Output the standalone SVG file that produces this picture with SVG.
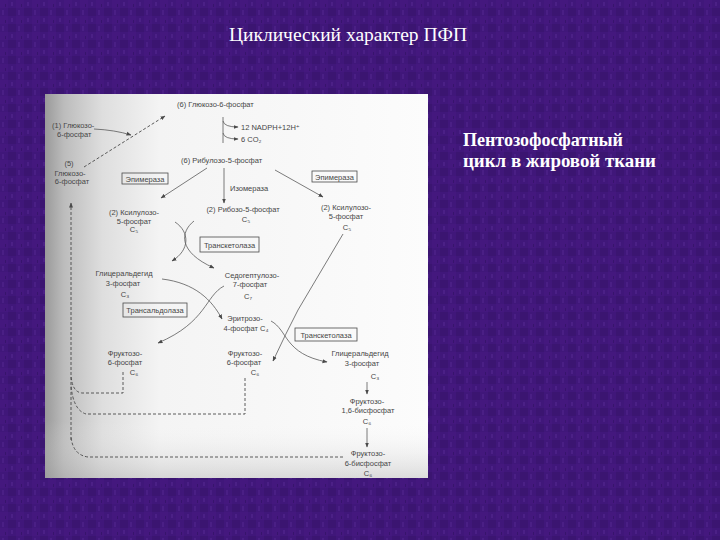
<svg xmlns="http://www.w3.org/2000/svg" width="720" height="540" viewBox="0 0 720 540">
<defs>
<pattern id="bgp" width="16" height="16" patternUnits="userSpaceOnUse">
<rect width="16" height="16" fill="#40177a"/>
<rect x="0" y="0" width="8" height="8" fill="#44187e"/>
<rect x="8" y="8" width="8" height="8" fill="#3b1571"/>
<rect x="2" y="10" width="2" height="5" fill="#4a1f85"/>
<rect x="11" y="2" width="2" height="4" fill="#4b2086"/>
<rect x="5" y="4" width="1" height="3" fill="#37146c"/>
</pattern>
<linearGradient id="scanH" x1="0" y1="0" x2="1" y2="0">
<stop offset="0" stop-color="#9a9a9a"/>
<stop offset="0.05" stop-color="#bcbcbc"/>
<stop offset="0.15" stop-color="#dedede"/>
<stop offset="0.3" stop-color="#f4f4f4"/>
<stop offset="1" stop-color="#fcfcfc"/>
</linearGradient>
<linearGradient id="scanV" x1="0" y1="0" x2="0" y2="1">
<stop offset="0" stop-color="#ffffff" stop-opacity="0"/>
<stop offset="0.85" stop-color="#ffffff" stop-opacity="0"/>
<stop offset="1" stop-color="#a0a0a0" stop-opacity="0.35"/>
</linearGradient>
<marker id="ah" viewBox="0 0 10 10" refX="9" refY="5" markerWidth="5" markerHeight="5" orient="auto" markerUnits="userSpaceOnUse">
<path d="M0,1 L10,5 L0,9 z" fill="#4a4a4a"/>
</marker>
<style>
.t{font-family:"Liberation Sans","DejaVu Sans",sans-serif;font-size:7.5px;fill:#464646}
.m{text-anchor:middle}
.box{fill:none;stroke:#4a4a4a;stroke-width:0.8}
.ln{fill:none;stroke:#5a5a5a;stroke-width:0.8}
.ar{marker-end:url(#ah)}
.ds{fill:none;stroke:#4a4a4a;stroke-width:0.9;stroke-dasharray:3,2}
.ttl{font-family:"Liberation Serif","DejaVu Serif",serif;fill:#ffffff}
</style>
</defs>
<rect width="720" height="540" fill="url(#bgp)"/>
<rect x="45" y="94" width="383" height="384" fill="url(#scanH)"/>
<rect x="45" y="94" width="383" height="384" fill="url(#scanV)"/>
<text class="ttl" x="348" y="41" font-size="19.5" text-anchor="middle">Циклический характер ПФП</text>
<g id="caption">
<text class="ttl" x="463" y="146" font-size="18" font-weight="bold" textLength="160" lengthAdjust="spacingAndGlyphs">Пентозофосфатный</text>
<text class="ttl" x="463" y="167" font-size="18" font-weight="bold" textLength="193" lengthAdjust="spacingAndGlyphs">цикл в жировой ткани</text>
</g>
<g id="connectors">
<path class="ds ar" d="M84,167 L165,116"/>
<path class="ln ar" d="M94,129 Q115,130 131,135"/>
<path class="ln" d="M223,117 L223,143"/>
<path class="ln ar" d="M223,121 Q224,127 238,127"/>
<path class="ln ar" d="M223,133 Q224,139 238,139"/>
<path class="ln ar" d="M207,168 L161,198"/>
<path class="ln ar" d="M224,168 L224,203"/>
<path class="ln ar" d="M275,170 L323,197"/>
<path class="ln ar" d="M175,222 C190,232 190,250 172,261"/>
<path class="ln ar" d="M194,221 C180,232 178,252 214,268"/>
<path class="ln ar" d="M162,279 C195,283 212,300 222,319"/>
<path class="ln ar" d="M224,286 C205,296 207,322 158,343"/>
<path class="ln ar" d="M343,234 L298,310 Q286,333 273,361"/>
<path class="ln ar" d="M271,321 C288,330 284,354 327,362"/>
<path class="ln ar" d="M367,382 L367,394"/>
<path class="ln ar" d="M367,428 L367,447"/>
<path class="ds ar" d="M71,440 L71,203"/>
<path class="ds" d="M123,372 V393 H82 Q72,392 71,375"/>
<path class="ds" d="M245,378 V414 H86 Q73,410 71,385"/>
<path class="ds" d="M343,457 H88 Q73,455 71,437"/>
</g>
<g id="g6p_top"><text class="t" x="177" y="107">(6) Глюкозо-6-фосфат</text></g>
<g id="nadph">
<text class="t" x="241" y="130">12 NADPH+12H⁺</text>
<text class="t" x="241" y="142">6 CO₂</text>
</g>
<g id="ribulose"><text class="t" x="181" y="163">(6) Рибулозо-5-фосфат</text></g>
<g id="g6p_1">
<text class="t" x="52" y="128">(1) Глюкозо-</text>
<text class="t" x="57" y="137">6-фосфат</text>
</g>
<g id="g6p_5">
<text class="t m" x="69" y="166">(5)</text>
<text class="t m" x="70" y="176">Глюкозо-</text>
<text class="t m" x="72" y="184">6-фосфат</text>
</g>
<g id="epi_left">
<rect class="box" x="122" y="173" width="46" height="11"/>
<text class="t m" x="145" y="181.5">Эпимераза</text>
</g>
<g id="isomerase"><text class="t" x="230" y="191">Изомераза</text></g>
<g id="epi_right">
<rect class="box" x="312" y="171" width="45" height="11"/>
<text class="t m" x="334.5" y="179.5">Эпимераза</text>
</g>
<g id="xyl_left">
<text class="t m" x="134" y="215">(2) Ксилулозо-</text>
<text class="t m" x="134" y="224">5-фосфат</text>
<text class="t m" x="134" y="232">C₅</text>
</g>
<g id="ribose">
<text class="t m" x="243" y="212">(2) Рибозо-5-фосфат</text>
<text class="t m" x="246" y="222">C₅</text>
</g>
<g id="xyl_right">
<text class="t m" x="346" y="210">(2) Ксилулозо-</text>
<text class="t m" x="346" y="219">5-фосфат</text>
<text class="t m" x="347" y="230">C₅</text>
</g>
<g id="tk1">
<rect class="box" x="200" y="237" width="59" height="15"/>
<text class="t m" x="229.5" y="247.5">Транскетолаза</text>
</g>
<g id="gap_left">
<text class="t m" x="124" y="276">Глицеральдегид</text>
<text class="t m" x="123" y="286">3-фосфат</text>
<text class="t m" x="125" y="297">C₃</text>
</g>
<g id="sedo">
<text class="t m" x="252" y="278">Седогептулозо-</text>
<text class="t m" x="250" y="287">7-фосфат</text>
<text class="t m" x="248" y="299">C₇</text>
</g>
<g id="ta">
<rect class="box" x="123" y="303" width="64" height="14"/>
<text class="t m" x="155" y="313">Трансальдолаза</text>
</g>
<g id="ery">
<text class="t m" x="245" y="321">Эритрозо-</text>
<text class="t m" x="246" y="331">4-фосфат C₄</text>
</g>
<g id="tk2">
<rect class="box" x="295" y="328" width="62" height="13"/>
<text class="t m" x="326" y="337.5">Транскетолаза</text>
</g>
<g id="f6p_left">
<text class="t m" x="125" y="356">Фруктозо-</text>
<text class="t m" x="125" y="365">6-фосфат</text>
<text class="t m" x="134" y="375">C₆</text>
</g>
<g id="f6p_mid">
<text class="t m" x="245" y="356">Фруктозо-</text>
<text class="t m" x="244" y="365">6-фосфат</text>
<text class="t m" x="255" y="375">C₆</text>
</g>
<g id="gap_right">
<text class="t m" x="360" y="356">Глицеральдегид</text>
<text class="t m" x="362" y="366">3-фосфат</text>
<text class="t m" x="375" y="379">C₃</text>
</g>
<g id="fbp">
<text class="t m" x="367" y="404">Фруктозо-</text>
<text class="t m" x="368" y="413">1,6-бисфосфат</text>
<text class="t m" x="367" y="424">C₆</text>
</g>
<g id="f6bp">
<text class="t m" x="368" y="456">Фруктозо-</text>
<text class="t m" x="368" y="466">6-бисфосфат</text>
<text class="t m" x="368" y="476">C₆</text>
</g>
</svg>
